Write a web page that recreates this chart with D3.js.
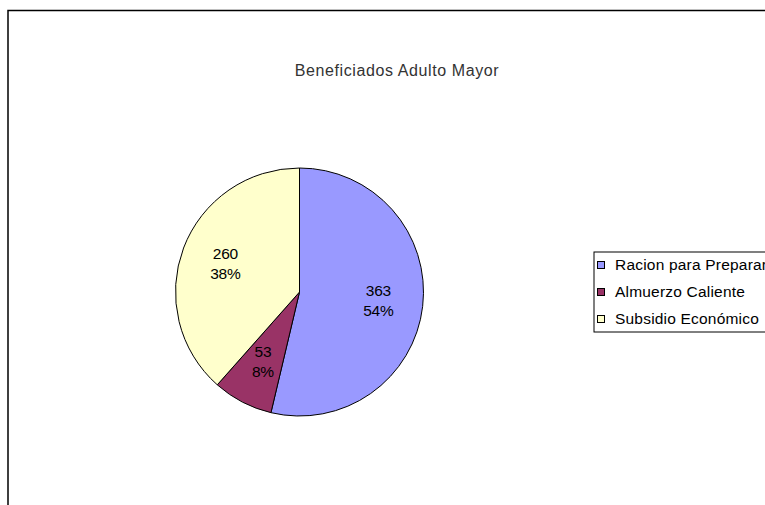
<!DOCTYPE html>
<html>
<head>
<meta charset="utf-8">
<script src="https://cdn.jsdelivr.net/npm/d3@7"></script>
<style>
  html, body { margin: 0; padding: 0; background: #fff; overflow: hidden; }
  text { font-family: "Liberation Sans", Arial, sans-serif; }
</style>
</head>
<body>
<div id="chart"></div>
<script>
// chart data
var title = "Beneficiados Adulto Mayor";
var categories = ["Racion para Preparar", "Almuerzo Caliente", "Subsidio Económico"];
var values = [363, 53, 260];
var colors = ["#9999FF", "#993366", "#FFFFCC"];

var width = 765, height = 505;

var svg = d3.select("#chart").append("svg")
  .attr("width", width).attr("height", height);

// outer chart border (runs off the right and bottom edges)
svg.append("rect")
  .attr("x", 8).attr("y", 10.5)
  .attr("width", 800).attr("height", 520)
  .attr("fill", "#fff").attr("stroke", "#000").attr("stroke-width", 1.5);

svg.append("text")
  .attr("x", 397).attr("y", 76)
  .attr("text-anchor", "middle")
  .style("font-size", "16px")
  .style("letter-spacing", "0.6px")
  .attr("fill", "#333")
  .text(title);

var cx = 299.5, cy = 292, r = 124;
var total = d3.sum(values);

var pie = d3.pie().sort(null).value(function(d){ return d; });
var arc = d3.arc().innerRadius(0).outerRadius(r);
var labelArc = d3.arc().innerRadius(r * 0.64).outerRadius(r * 0.64);

var g = svg.append("g").attr("transform", "translate(" + cx + "," + cy + ")");
var arcs = pie(values);

g.selectAll("path")
  .data(arcs)
  .enter()
  .append("path")
  .attr("d", arc)
  .attr("fill", function(d, i){ return colors[i]; })
  .attr("stroke", "#000")
  .attr("stroke-width", 1);

var labels = g.selectAll("g.lbl")
  .data(arcs)
  .enter()
  .append("g")
  .attr("class", "lbl")
  .attr("transform", function(d){
    var c = labelArc.centroid(d);
    return "translate(" + c[0] + "," + c[1] + ")";
  });

labels.append("text")
  .attr("text-anchor", "middle")
  .attr("y", -5)
  .style("font-size", "15.5px")
  .style("letter-spacing", "-0.3px")
  .text(function(d){ return d.value; });

labels.append("text")
  .attr("text-anchor", "middle")
  .attr("y", 15)
  .style("font-size", "15.5px")
  .style("letter-spacing", "-0.3px")
  .text(function(d){ return Math.round(d.value / total * 100) + "%"; });

// legend
var legend = svg.append("g");
legend.append("rect")
  .attr("x", 594).attr("y", 252)
  .attr("width", 200).attr("height", 80)
  .attr("fill", "#fff").attr("stroke", "#000").attr("stroke-width", 1);

var rows = legend.selectAll("g.row")
  .data(categories)
  .enter()
  .append("g")
  .attr("class", "row")
  .attr("transform", function(d, i){ return "translate(597," + (265 + i * 27) + ")"; });

rows.append("rect")
  .attr("x", 0.5).attr("y", -3.5)
  .attr("width", 7).attr("height", 7)
  .attr("fill", function(d, i){ return colors[i]; })
  .attr("stroke", "#000").attr("stroke-width", 1);

rows.append("text")
  .attr("x", 18).attr("y", 5)
  .style("font-size", "15.5px")
  .style("letter-spacing", "0.2px")
  .text(function(d){ return d; });
</script>
</body>
</html>
